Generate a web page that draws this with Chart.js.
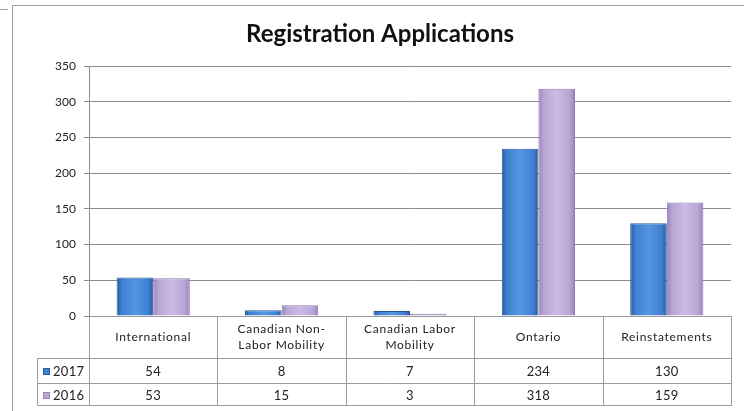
<!DOCTYPE html>
<html>
<head>
<meta charset="utf-8">
<script src="https://cdn.jsdelivr.net/npm/chart.js@4/dist/chart.umd.min.js"></script>
<style>
  html, body { margin: 0; padding: 0; background: #ffffff; overflow: hidden; }
  #regChart { display: block; }
</style>
</head>
<body>
<canvas id="regChart" width="744" height="411"></canvas>
<script>
// data
var categories = ["International", ["Canadian Non-", "Labor Mobility"], ["Canadian Labor", "Mobility"], "Ontario", "Reinstatements"];
var seriesNames = ["2017", "2016"];
var values2017 = [54, 8, 7, 234, 130];
var values2016 = [53, 15, 3, 318, 159];
var yTicks = [0, 50, 100, 150, 200, 250, 300, 350];

var FONT = "Lato, 'Open Sans', sans-serif";
var blueStops = ["#2a5c9c", "#3f80d2", "#5596e2", "#3f80d2", "#2a5c9c"];
var lilacStops = ["#9883bb", "#b8a6d6", "#cbbbe5", "#b8a6d6", "#9883bb"];

// horizontal bevel-ish gradient for each bar
function barFill(stops) {
  return function (ctx) {
    var chart = ctx.chart;
    var x = chart.scales.x;
    if (!chart.chartArea || !x || ctx.dataIndex === undefined) return stops[1];
    var catW = (x.right - x.left) / categories.length;
    var barW = catW * 0.57 / 2;
    var center = x.getPixelForValue(ctx.dataIndex);
    var left = ctx.datasetIndex === 0 ? center - barW : center;
    var g = chart.ctx.createLinearGradient(left, 0, left + barW, 0);
    g.addColorStop(0, stops[0]);
    g.addColorStop(0.15, stops[1]);
    g.addColorStop(0.5, stops[2]);
    g.addColorStop(0.85, stops[1]);
    g.addColorStop(1, stops[4]);
    return g;
  };
}

// outer frame + title
var framePlugin = {
  id: "frame",
  beforeDraw: function (chart) {
    var c = chart.ctx;
    c.save();
    c.strokeStyle = "#a0a0a0";
    c.lineWidth = 1;
    c.beginPath();
    c.moveTo(12.5, 411);
    c.lineTo(12.5, 5.5);
    c.lineTo(744, 5.5);
    c.moveTo(0, 9.5);
    c.lineTo(8, 9.5);
    c.stroke();
    c.fillStyle = "#111111";
    c.font = "bold 24px " + FONT;
    c.textAlign = "center";
    c.textBaseline = "middle";
    c.fillText("Registration Applications", 380, 34);
    c.restore();
  }
};

// data table under the plot
var tablePlugin = {
  id: "dataTable",
  afterDraw: function (chart) {
    var c = chart.ctx;
    var x = chart.scales.x;
    var area = chart.chartArea;
    var n = categories.length;
    var catW = (x.right - x.left) / n;
    var top = Math.round(area.bottom) + 0.5;
    var row1 = top + 42;
    var row2 = row1 + 25;
    var bottom = row2 + 22;
    var headLeft = 37.5;
    var right = Math.round(x.right) + 0.5;

    c.save();
    c.strokeStyle = "#9a9a9a";
    c.lineWidth = 1;
    c.beginPath();
    c.moveTo(Math.round(x.left) + 0.5, top); c.lineTo(right, top);
    c.moveTo(headLeft, row1); c.lineTo(right, row1);
    c.moveTo(headLeft, row2); c.lineTo(right, row2);
    c.moveTo(headLeft, bottom); c.lineTo(right, bottom);
    c.moveTo(headLeft, row1); c.lineTo(headLeft, bottom);
    for (var i = 0; i <= n; i++) {
      var vx = Math.round(x.left + i * catW) + 0.5;
      c.moveTo(vx, top); c.lineTo(vx, bottom);
    }
    c.stroke();

    c.fillStyle = "#222222";
    c.textAlign = "center";
    c.textBaseline = "middle";
    c.font = "12px " + FONT;
    c.letterSpacing = "0.7px";
    for (var j = 0; j < n; j++) {
      var cx = x.getPixelForValue(j);
      var lab = categories[j];
      var midY = (top + row1) / 2;
      if (Array.isArray(lab)) {
        c.fillText(lab[0], cx, midY - 8);
        c.fillText(lab[1], cx, midY + 8);
      } else {
        c.fillText(lab, cx, midY);
      }
    }

    var rows = [values2017, values2016];
    var rowMids = [(row1 + row2) / 2, (row2 + bottom) / 2];
    var swatches = [blueStops, lilacStops];
    c.font = "13px " + FONT;
    c.letterSpacing = "0.3px";
    for (var r = 0; r < rows.length; r++) {
      for (var k = 0; k < n; k++) {
        c.fillText(String(rows[r][k]), x.getPixelForValue(k), rowMids[r] + 1);
      }
      // legend key
      var sy = Math.round(rowMids[r]) - 3;
      c.fillStyle = swatches[r][1];
      c.fillRect(43, sy, 7, 7);
      c.strokeStyle = swatches[r][0];
      c.strokeRect(43.5, sy + 0.5, 6, 6);
      c.fillStyle = "#222222";
      c.textAlign = "left";
      c.fillText(seriesNames[r], 53, rowMids[r] + 1);
      c.textAlign = "center";
    }
    c.restore();
  }
};

var regCanvas = document.getElementById("regChart");

new Chart(regCanvas, {
  type: "bar",
  data: {
    labels: categories,
    datasets: [
      {
        label: seriesNames[0],
        data: values2017,
        backgroundColor: barFill(blueStops),
        borderColor: "#2a5a96",
        borderWidth: 1,
        categoryPercentage: 0.57,
        barPercentage: 1
      },
      {
        label: seriesNames[1],
        data: values2016,
        backgroundColor: barFill(lilacStops),
        borderColor: "#8f7bb1",
        borderWidth: 1,
        categoryPercentage: 0.57,
        barPercentage: 1
      }
    ]
  },
  options: {
    responsive: false,
    animation: false,
    devicePixelRatio: 1,
    layout: {
      padding: { left: 0, right: 13, top: 66, bottom: 95 }
    },
    plugins: {
      legend: { display: false },
      title: { display: false },
      tooltip: { enabled: false }
    },
    scales: {
      x: {
        ticks: { display: false },
        grid: { display: false, drawTicks: false },
        border: { display: false }
      },
      y: {
        min: 0,
        max: 350,
        afterBuildTicks: function (scale) {
          scale.ticks = yTicks.map(function (v) { return { value: v }; });
        },
        afterFit: function (scale) { scale.width = 89; },
        ticks: {
          color: "#222222",
          font: { family: FONT, size: 12 },
          padding: 8
        },
        grid: {
          color: "#8c8c8c",
          tickLength: 5,
          tickColor: "#8c8c8c"
        },
        border: { color: "#8c8c8c" }
      }
    }
  },
  plugins: [framePlugin, tablePlugin]
});
</script>
</body>
</html>
